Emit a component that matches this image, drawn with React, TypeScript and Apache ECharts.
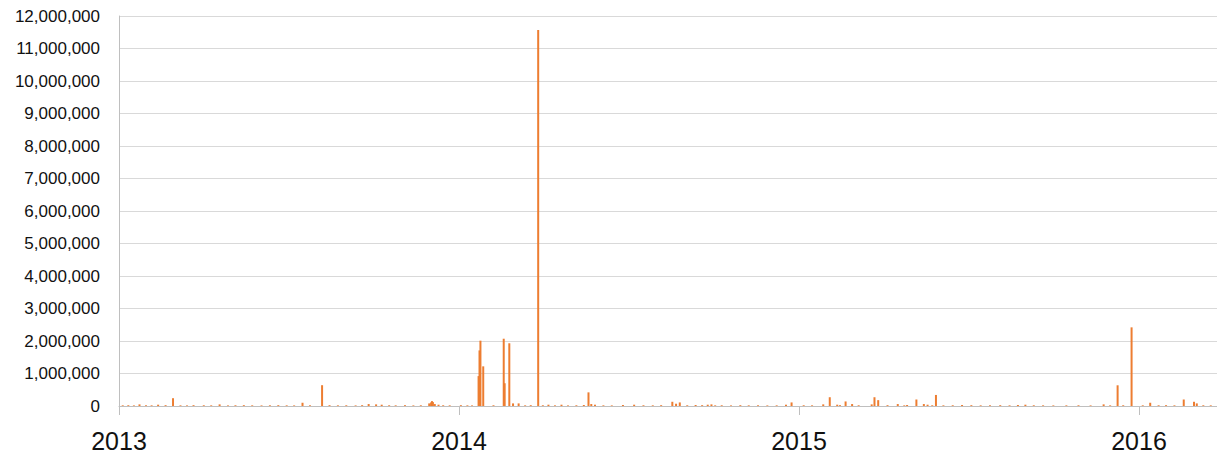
import React, { useEffect, useRef } from "react";
import * as echarts from "echarts";

// Dates of the daily values (YYYY-MM-DD) and the values themselves
const dates: string[] = [
  // 2013
  "2013-01-05", "2013-01-11", "2013-01-17", "2013-01-23", "2013-01-30", "2013-02-05", "2013-02-12",
  "2013-02-20", "2013-02-28", "2013-03-08", "2013-03-15", "2013-03-22", "2013-04-02", "2013-04-10",
  "2013-04-19", "2013-04-28", "2013-05-06", "2013-05-15", "2013-05-24", "2013-06-03", "2013-06-12",
  "2013-06-21", "2013-06-30", "2013-07-08", "2013-07-17", "2013-07-25", "2013-08-07", "2013-08-15",
  "2013-08-24", "2013-09-02", "2013-09-12", "2013-09-19", "2013-09-26", "2013-10-04", "2013-10-10",
  "2013-10-18", "2013-10-25", "2013-11-04", "2013-11-13", "2013-11-21", "2013-11-30", "2013-12-02",
  "2013-12-03", "2013-12-04", "2013-12-06", "2013-12-10", "2013-12-15", "2013-12-22",
  // 2014
  "2014-01-03", "2014-01-10", "2014-01-15", "2014-01-22", "2014-01-23", "2014-01-24", "2014-01-27",
  "2014-02-07", "2014-02-18", "2014-02-19", "2014-02-24", "2014-02-28", "2014-03-06", "2014-03-13",
  "2014-03-19", "2014-03-27", "2014-04-01", "2014-04-07", "2014-04-14", "2014-04-21", "2014-04-28",
  "2014-05-07", "2014-05-15", "2014-05-20", "2014-05-23", "2014-05-27", "2014-06-05", "2014-06-14",
  "2014-06-26", "2014-07-08", "2014-07-18", "2014-07-28", "2014-08-06", "2014-08-18", "2014-08-22",
  "2014-08-26", "2014-09-03", "2014-09-12", "2014-09-19", "2014-09-25", "2014-09-29", "2014-10-03",
  "2014-10-10", "2014-10-20", "2014-10-30", "2014-11-08", "2014-11-18", "2014-11-28", "2014-12-08",
  "2014-12-18", "2014-12-24",
  // 2015
  "2015-01-06", "2015-01-15", "2015-01-27", "2015-02-03", "2015-02-11", "2015-02-14", "2015-02-20",
  "2015-02-27", "2015-03-06", "2015-03-20", "2015-03-23", "2015-03-27", "2015-04-06", "2015-04-17",
  "2015-04-24", "2015-04-27", "2015-05-07", "2015-05-15", "2015-05-19", "2015-05-24", "2015-05-28",
  "2015-06-05", "2015-06-15", "2015-06-25", "2015-07-05", "2015-07-15", "2015-07-25", "2015-08-05",
  "2015-08-15", "2015-08-24", "2015-09-01", "2015-09-10", "2015-09-20", "2015-10-01", "2015-10-15",
  "2015-10-28", "2015-11-10", "2015-11-24", "2015-12-01", "2015-12-09", "2015-12-15", "2015-12-24",
  // 2016
  "2016-01-05", "2016-01-13", "2016-01-22", "2016-01-30", "2016-02-08", "2016-02-18", "2016-02-29",
  "2016-03-03", "2016-03-10", "2016-03-18",
];

const values: number[] = [
  // 2013
  20000, 25000, 18000, 50000, 22000, 20000, 40000,
  25000, 240000, 20000, 18000, 25000, 22000, 20000,
  50000, 18000, 22000, 25000, 20000, 18000, 22000,
  25000, 20000, 18000, 100000, 22000, 640000, 25000,
  20000, 22000, 18000, 25000, 60000, 50000, 40000,
  22000, 20000, 25000, 18000, 22000, 80000, 110000,
  150000, 120000, 60000, 40000, 22000, 20000,
  // 2014
  25000, 20000, 18000, 920000, 1710000, 2010000, 1220000,
  22000, 2070000, 700000, 1930000, 80000, 80000, 20000,
  25000, 11570000, 22000, 40000, 20000, 40000, 18000,
  22000, 30000, 420000, 60000, 40000, 20000, 18000,
  30000, 40000, 22000, 20000, 25000, 130000, 70000,
  110000, 22000, 30000, 25000, 40000, 50000, 20000,
  22000, 18000, 25000, 20000, 22000, 18000, 20000,
  40000, 110000,
  // 2015
  22000, 20000, 50000, 270000, 40000, 25000, 140000,
  60000, 22000, 50000, 270000, 180000, 25000, 60000,
  20000, 30000, 200000, 60000, 40000, 22000, 340000,
  20000, 22000, 30000, 25000, 20000, 22000, 25000,
  20000, 30000, 40000, 22000, 20000, 18000, 20000,
  22000, 18000, 50000, 20000, 637000, 22000, 2420000,
  // 2016
  20000, 100000, 22000, 25000, 20000, 200000, 130000,
  80000, 22000, 20000,
];

const startDate = "2013-01-01";
const endDay = 1178.7; // right edge of the plot, in days after startDate
const yearStart = 2013;

export default function App() {
  const ref = useRef<HTMLDivElement>(null);

  useEffect(() => {
    document.body.style.margin = "0";
    if (!ref.current) return;
    const chart = echarts.init(ref.current, undefined, { renderer: "svg" });
    const t0 = Date.parse(startDate);
    const data = dates.map((d, i) => [(Date.parse(d) - t0) / 86400000, values[i]]);
    const font = "'Liberation Sans', Arial, sans-serif";

    chart.setOption({
      animation: false,
      grid: {
        left: 119,
        right: 0,
        top: 16,
        bottom: 54,
        containLabel: false,
        outerBoundsMode: "none",
      },
      xAxis: {
        type: "value",
        min: 0,
        max: endDay,
        interval: 365,
        axisLine: { show: true, lineStyle: { color: "#bfbfbf", width: 1 } },
        axisTick: { show: true, length: 9, lineStyle: { color: "#bfbfbf" } },
        splitLine: { show: false },
        axisLabel: {
          fontFamily: font,
          fontSize: 25,
          color: "#111",
          margin: 22,
          formatter: (v: number) =>
            Math.abs(v % 365) < 1e-6 ? String(yearStart + Math.round(v / 365)) : "",
        },
      },
      yAxis: {
        type: "value",
        min: 0,
        max: 12000000,
        interval: 1000000,
        axisLine: { show: true, lineStyle: { color: "#bfbfbf", width: 1 } },
        axisTick: { show: false },
        splitLine: { show: true, lineStyle: { color: "#d9d9d9", width: 1 } },
        axisLabel: {
          fontFamily: font,
          fontSize: 17,
          color: "#111",
          margin: 19,
          formatter: (v: number) => v.toLocaleString("en-US"),
        },
      },
      series: [
        {
          type: "bar",
          data,
          barWidth: 2,
          itemStyle: { color: "#ED7D31" },
        },
      ],
    });

    return () => chart.dispose();
  }, []);

  return <div ref={ref} style={{ width: 1217, height: 460 }} />;
}
